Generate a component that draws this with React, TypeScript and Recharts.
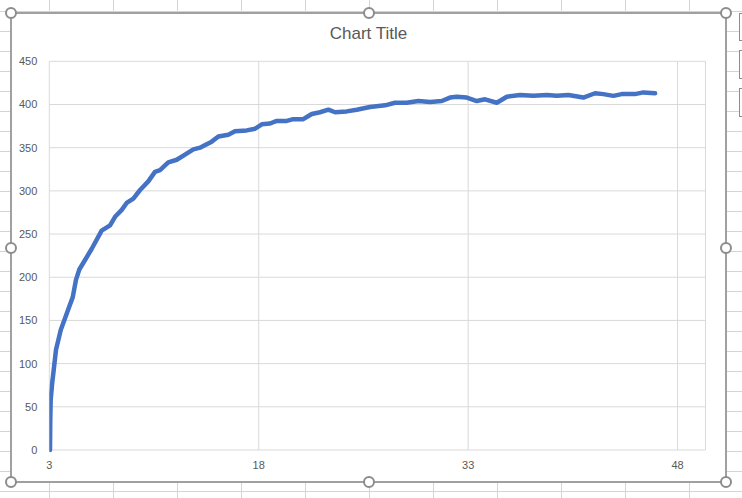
import React from 'react';
import { LineChart, Line, XAxis, YAxis, CartesianGrid } from 'recharts';

// values
const xValues = [
  3.05, 3.07, 3.1, 3.21, 3.29, 3.48, 3.82, 4.25, 4.68, 4.91, 5.15, 5.56, 6.04, 6.75, 7.35,
  7.71, 8.19, 8.54, 9.02, 9.5, 10.09, 10.57, 10.93, 11.52, 12.13, 12.72, 13.32, 13.8, 14.03,
  14.63, 15.11, 15.82, 16.3, 17.14, 17.74, 18.22, 18.81, 19.29, 20.01, 20.48, 21.19, 21.8,
  22.39, 22.99, 23.47, 24.3, 25.02, 25.97, 27.05, 27.76, 28.6, 29.43, 30.27, 31.11, 31.7,
  32.18, 32.9, 33.62, 34.21, 35.05, 35.77, 36.72, 37.67, 38.63, 39.35, 40.18, 41.25, 42.09,
  42.68, 43.4, 44.0, 44.95, 45.55, 46.39,
];
const yValues = [
  0, 35, 58, 78, 89, 116, 139, 158, 177, 197, 209, 220, 233, 254, 260,
  270, 278, 286, 291, 301, 311, 322, 324, 333, 336, 342, 348, 350, 352,
  357, 363, 365, 369, 370, 372, 377, 378, 381, 381, 383, 383, 389,
  391, 394, 391, 392, 394, 397, 399, 402, 402, 404, 403, 404, 408,
  409, 408, 404, 406, 402, 409, 411, 410, 411, 410, 411, 408, 413,
  412, 410, 412, 412, 414, 413,
];
const xTicks = [3, 18, 33, 48];
const yTicks = [0, 50, 100, 150, 200, 250, 300, 350, 400, 450];

const data = xValues.map((x, i) => ({ x, y: yValues[i] }));

const font = '"Liberation Sans", Arial, sans-serif';
const labelColor = '#595959';

const handlePoints = [
  [11, 13], [368.5, 13], [726, 13],
  [11, 247.5], [726, 247.5],
  [11, 482], [368.5, 482], [726, 482],
];

const Handle = ({ cx, cy }: { cx: number; cy: number }) => (
  <div
    style={{
      position: 'absolute',
      left: cx - 6,
      top: cy - 6,
      width: 8,
      height: 8,
      borderRadius: '50%',
      border: '2px solid #8c8c8c',
      background: '#fff',
    }}
  />
);

export default function App() {
  return (
    <div
      style={{
        position: 'absolute',
        left: 0,
        top: 0,
        width: 742,
        height: 498,
        overflow: 'hidden',
        background: '#fff',
        backgroundImage:
          'linear-gradient(to right, #d4d4d4 1px, transparent 1px), linear-gradient(to bottom, #d4d4d4 1px, transparent 1px)',
        backgroundSize: '64px 20px',
        backgroundPosition: '49px 11px',
      }}
    >
      {/* chart area */}
      <div
        style={{
          position: 'absolute',
          left: 10,
          top: 12,
          width: 713,
          height: 467,
          background: '#fff',
          border: '2px solid #a0a0a0',
        }}
      />

      {/* chart buttons on the right, cut off by the window */}
      {[[13, 26], [50, 27], [88, 27]].map(([top, h], i) => (
        <div
          key={i}
          style={{
            position: 'absolute',
            left: 739,
            top,
            width: 20,
            height: h,
            border: '1px solid #8c8c8c',
            background: '#fff',
          }}
        />
      ))}

      <div
        style={{
          position: 'absolute',
          left: 11,
          width: 715,
          top: 24,
          textAlign: 'center',
          fontFamily: font,
          fontSize: 17,
          lineHeight: '20px',
          color: labelColor,
        }}
      >
        Chart Title
      </div>

      <div style={{ position: 'absolute', left: 0, top: 0 }}>
        <LineChart
          width={742}
          height={498}
          data={data}
          margin={{ top: 61.3, right: 36.5, left: 0, bottom: 0 }}
        >
          <CartesianGrid stroke="#d9d9d9" strokeWidth={1} />
          <XAxis
            type="number"
            dataKey="x"
            domain={[3, 50]}
            ticks={xTicks}
            allowDataOverflow
            axisLine={false}
            tickLine={false}
            tickMargin={5}
            height={48}
            tick={{ fontSize: 11, fill: labelColor, fontFamily: font }}
          />
          <YAxis
            type="number"
            domain={[0, 450]}
            ticks={yTicks}
            axisLine={false}
            tickLine={false}
            tickMargin={6}
            width={49.3}
            tick={{ fontSize: 11, fill: labelColor, fontFamily: font }}
          />
          <Line
            type="linear"
            dataKey="y"
            stroke="#4472C4"
            strokeWidth={4.5}
            strokeLinecap="round"
            strokeLinejoin="round"
            dot={false}
            isAnimationActive={false}
          />
        </LineChart>
      </div>

      {handlePoints.map(([cx, cy], i) => (
        <Handle key={i} cx={cx} cy={cy} />
      ))}
    </div>
  );
}
